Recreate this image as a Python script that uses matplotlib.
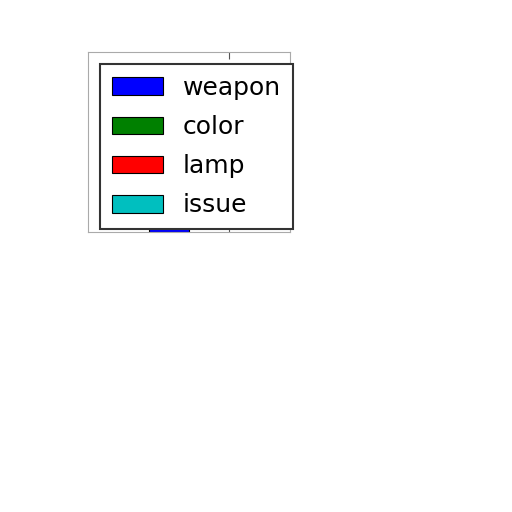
import matplotlib
matplotlib.use("Agg")
import matplotlib.pyplot as plt

# data for the single stacked bar (values hidden behind the legend, estimated)
labels = ["weapon", "color", "lamp", "issue"]
values = [3, 2, 4, 1]
colors = ["#0000ff", "#008000", "#ff0000", "#00bfbf"]

fig = plt.figure(figsize=(5.12, 5.12), dpi=100)
ax = fig.add_axes([88/512, 1 - 232/512, 202/512, 180/512])

bottom = 0
for lab, val, col in zip(labels, values, colors):
    ax.bar(0, val, width=0.4, bottom=bottom, color=col, edgecolor="black", linewidth=0.8, label=lab)
    bottom += val

ax.set_xlim(-0.8, 1.2)
ax.set_ylim(0, 12)
ax.set_xticks([0.6])
ax.set_yticks([])
ax.tick_params(direction="in", labelbottom=False, length=5, top=True, color="#555555")
for s in ax.spines.values():
    s.set_color("#aaaaaa")

leg = ax.legend(loc="upper left", bbox_to_anchor=(100/512, 1 - 64/512), bbox_transform=fig.transFigure,
                borderaxespad=0, fontsize=18, handlelength=2.05, handleheight=0.7,
                labelspacing=0.61, borderpad=0.47, fancybox=False, framealpha=1, edgecolor="#333333")
leg.get_frame().set_linewidth(1.5)

fig.savefig("out.png", dpi=100)
